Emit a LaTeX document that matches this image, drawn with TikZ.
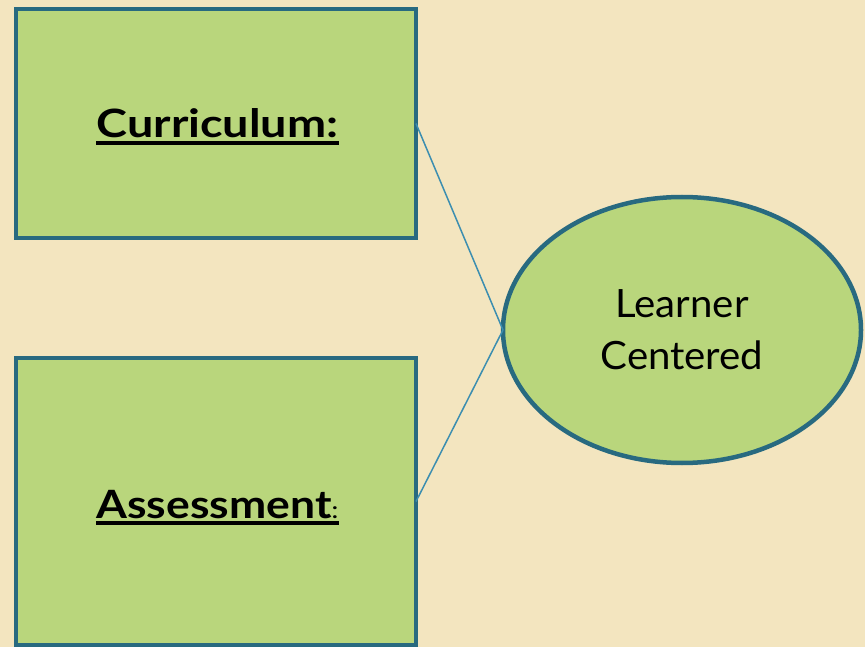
\documentclass[tikz,border=0pt]{standalone}
\usepackage{fontspec}
\setmainfont{Lato}
\newfontfamily\headfont[FakeStretch=1.2]{Lato}
\newfontfamily\narrowhead[FakeStretch=1.14]{Lato}
\newfontfamily\bodyfont[FakeStretch=1.03]{Lato}
\usetikzlibrary{shapes.geometric}

\definecolor{paper}{HTML}{F3E5BF}
\definecolor{leaf}{HTML}{B9D67C}
\definecolor{rim}{HTML}{286A80}
\definecolor{wire}{HTML}{3C8EB0}

\newcommand{\ulword}[1]{\vtop{\hbox{#1}\kern3pt\hrule height 4pt}}

\begin{document}
\begin{tikzpicture}[x=1pt,y=-1pt]
	\tikzstyle{every node}+=[outer sep=0pt]
	\tikzstyle{topicbox}=[draw=rim, fill=leaf, line width=4.5pt, rectangle, minimum width=400pt, inner sep=0pt]
	\tikzstyle{topiclabel}=[anchor=base, inner sep=0pt, font=\headfont\fontsize{39}{46}\selectfont]
	\tikzstyle{focusbubble}=[draw=rim, fill=leaf, line width=4.5pt, ellipse, minimum width=358pt, minimum height=266pt, inner sep=0pt, align=center, font=\bodyfont\fontsize{39}{52}\selectfont]
	% background
	\fill [paper] (0,0) rectangle (865,647);
	\useasboundingbox (0,0) rectangle (865,647);
	% boxes
	\node [topicbox, minimum height=229pt] (curr) at (216,123.5) {};
	\node [topiclabel] (currtext) at (217.5,138) {\ulword{\bfseries Curriculum:}};
	\node [topicbox, minimum height=287pt] (assess) at (216,501.5) {};
	\node [topiclabel] (assesstext) at (217.5,518) {\ulword{{\narrowhead\bfseries Assessment}{\fontsize{24}{28}\selectfont:}}};
	% centre
	\node [focusbubble] (learner) at (682,330) {Learner\\Centered};
	% links
	\draw [wire, line width=1.5pt] (curr.east) -- (learner.west);
	\draw [wire, line width=1.5pt] (assess.east) -- (learner.west);
\end{tikzpicture}
\end{document}
